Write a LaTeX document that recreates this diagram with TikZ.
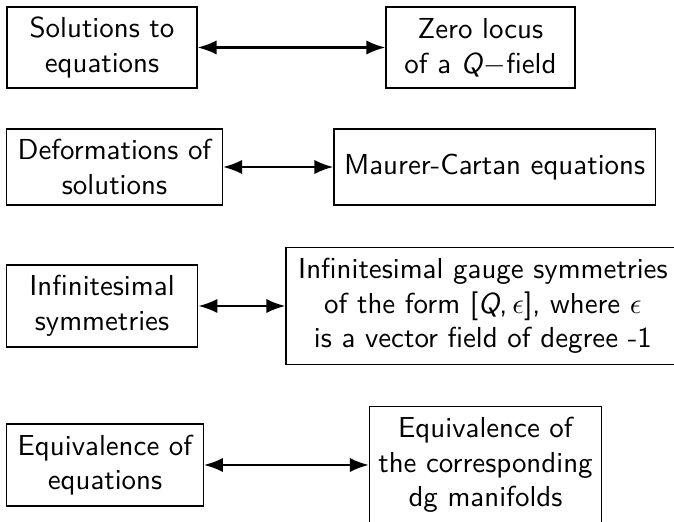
\documentclass[tikz,border=0pt]{standalone}
\usepackage{amsmath}
\usetikzlibrary{arrows.meta,positioning}

\begin{document}
\begin{tikzpicture}[x=0.346pt,y=-0.346pt,>=Latex,
 eqbox/.style={draw,thin,align=center,inner sep=1pt,font=\sffamily},
 corr/.style={<->,thick}]
\useasboundingbox (0,0) rectangle (674,522);
\clip (0,0) rectangle (674,522);
\node[eqbox,minimum width=65.7pt,minimum height=28pt] (sol) at (102,47.5) {Solutions to\\equations};
\node[eqbox,minimum width=65.4pt,minimum height=28pt,right=65pt of sol] (zero) {Zero locus\\of a \textit{Q}$-$field};
\node[eqbox,minimum width=74.7pt,minimum height=26.3pt] (deform) at (114.5,167) {Deformations of\\solutions};
\node[eqbox,minimum width=111.1pt,minimum height=26.3pt,right=38.2pt of deform] (mc) {Maurer-Cartan equations};
\node[eqbox,minimum width=66.3pt,minimum height=28.4pt] (infsym) at (102,306) {Infinitesimal\\symmetries};
\node[eqbox,minimum width=136.3pt,minimum height=40.5pt,right=30.1pt of infsym] (gauge) {Infinitesimal gauge symmetries\\of the form [\textit{Q},\,$\epsilon$], where $\epsilon$\\is a vector field of degree -1};
\node[eqbox,minimum width=68pt,minimum height=28.4pt] (equiv) at (105,465) {Equivalence of\\equations};
\node[eqbox,minimum width=80.3pt,minimum height=40.5pt,right=57.1pt of equiv] (dg) {Equivalence of\\the corresponding\\dg manifolds};
\draw[corr] (sol) -- (zero);
\draw[corr] (deform) -- (mc);
\draw[corr] (infsym) -- (gauge);
\draw[corr] (equiv) -- (dg);
\end{tikzpicture}
\end{document}
